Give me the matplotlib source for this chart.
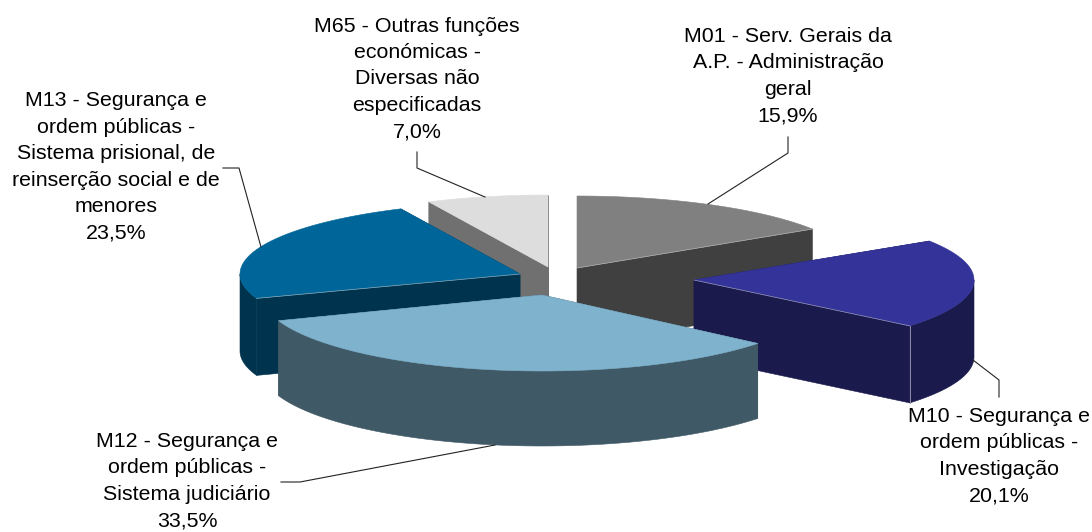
import numpy as np
import matplotlib
matplotlib.use("Agg")
import matplotlib.pyplot as plt
from matplotlib.patches import Polygon

plt.rcParams["font.family"] = ["Liberation Sans", "DejaVu Sans"]

# shares in percent, clockwise from 12 o'clock
names = ["M01", "M10", "M12", "M13", "M65"]
shares = [15.9, 20.1, 33.5, 23.5, 7.0]
labels = [
    "M01 - Serv. Gerais da\nA.P. - Administração\ngeral\n15,9%",
    "M10 - Segurança e\nordem públicas -\nInvestigação\n20,1%",
    "M12 - Segurança e\nordem públicas -\nSistema judiciário\n33,5%",
    "M13 - Segurança e\nordem públicas -\nSistema prisional, de\nreinserção social e de\nmenores\n23,5%",
    "M65 - Outras funções\neconómicas -\nDiversas não\nespecificadas\n7,0%",
]
top_colors = ["#808080", "#333399", "#7FB2CC", "#006699", "#DDDDDD"]
side_colors = ["#404040", "#1A1A4D", "#405966", "#00334D", "#707070"]

# where each exploded slice sits (pixels), and how it is stacked
apex = {"M01": (577, 268), "M10": (694, 280), "M12": (542, 295), "M13": (520, 274), "M65": (548, 267)}
draw_order = ["M65", "M01", "M13", "M10", "M12"]
rx, ry, depth = 280, 72, 77
ry_front = {"M12": 76}
depth_front = {"M12": 75}

label_pos = {"M01": (788, 76), "M10": (999, 456), "M12": (187, 481), "M13": (116, 167), "M65": (417, 79)}
leaders = {
    "M01": [(788, 137), (788, 153), (708, 204)],
    "M10": [(973, 360), (999, 380), (999, 397)],
    "M12": [(495, 445), (300, 482), (281, 482)],
    "M13": [(261, 247), (239, 168), (223, 168)],
    "M65": [(485, 197), (417, 168), (417, 152)],
}
# cut edges that face the viewer catch a thin highlight: slice, which end
seams = [("M01", 1), ("M10", 1), ("M13", 0)]

edges = np.concatenate([[0], np.cumsum(shares)]) / sum(shares) * 2 * np.pi

fig = plt.figure(figsize=(10.92, 5.32), dpi=100)
ax = fig.add_axes([0, 0, 1, 1])
ax.set_xlim(0, 1092)
ax.set_ylim(532, 0)
ax.axis("off")


def arc(x0, y0, b, t0, t1, n=80):
    t = np.linspace(t0, t1, n)
    return np.column_stack([x0 + rx * np.sin(t), y0 - b * np.cos(t)])


for name in draw_order:
    i = names.index(name)
    t0, t1 = edges[i], edges[i + 1]
    x0, y0 = apex[name]
    b = ry_front.get(name, ry)
    d = depth_front.get(name, depth)
    top = arc(x0, y0, b, t0, t1)
    down = np.array([0, d])
    side_kw = dict(facecolor=side_colors[i], edgecolor=side_colors[i], linewidth=0.4)
    # cut faces first, then the visible part of the rim, then the top
    for end in (top[0], top[-1]):
        quad = [(x0, y0), end, end + down, (x0, y0 + d)]
        ax.add_patch(Polygon(quad, closed=True, **side_kw))
    lo, hi = max(t0, np.pi / 2), min(t1, 3 * np.pi / 2)
    if hi > lo:
        rim = arc(x0, y0, b, lo, hi)
        ax.add_patch(Polygon(np.vstack([rim, rim[::-1] + down]), closed=True, **side_kw))
    ax.add_patch(Polygon(np.vstack([[(x0, y0)], top]), closed=True, facecolor=top_colors[i],
                         edgecolor=top_colors[i], linewidth=0.4))
    for seam_name, end in seams:
        if seam_name == name:
            p = top[-1] if end else top[0]
            ax.plot([x0, p[0]], [y0, p[1]], color="#C8C8C8", lw=0.5, alpha=0.7)

# thin light seam on the front corner of the blue slice
i = names.index("M10")
corner = arc(*apex["M10"], ry, edges[i + 1], edges[i + 1], 1)[0]
ax.plot([corner[0], corner[0]], [corner[1], corner[1] + depth], color="#8C8CA6", lw=0.7)

for name, pts in leaders.items():
    xs, ys = zip(*pts)
    ax.plot(xs, ys, color="#222222", lw=0.8)

for name, (x, y) in label_pos.items():
    ax.text(x, y, labels[names.index(name)], ha="center", va="center", fontsize=15.4,
            linespacing=1.5, color="black")

fig.savefig("out.png", dpi=100)
